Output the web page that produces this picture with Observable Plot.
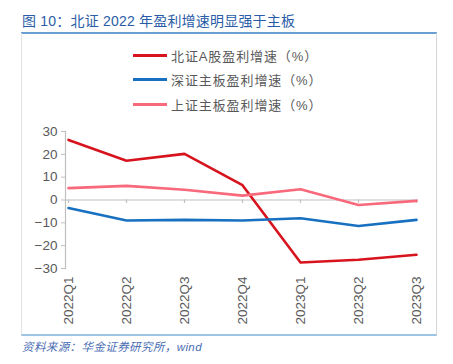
<!DOCTYPE html>
<html><head><meta charset="utf-8">
<script src="https://cdn.jsdelivr.net/npm/d3@7"></script>
<script src="https://cdn.jsdelivr.net/npm/@observablehq/plot@0.6"></script>
<style>
body{margin:0;background:#fff;}
#wrap{position:relative;width:453px;height:364px;overflow:hidden;font-family:"Liberation Sans",Arial,sans-serif;}
#title{position:absolute;left:22px;top:13px;font-family:"Liberation Sans","Noto Sans CJK SC",sans-serif;font-size:14px;line-height:17px;color:#2a5ca8;white-space:nowrap;letter-spacing:0.2px;}
#rule{position:absolute;left:21px;top:32px;width:416px;height:1.5px;background:#6a9fd4;}
#frame{position:absolute;left:21px;top:33px;width:414px;height:301px;border-left:1px solid #e2e2e2;border-right:1px solid #d6d6d6;border-bottom:2px solid #9cc5e6;}
.leg{position:absolute;left:133px;height:20px;display:flex;align-items:center;white-space:nowrap;}
.leg .sw{width:34px;height:3px;margin-right:4px;}
.leg span{font-family:"Liberation Sans","Noto Sans CJK SC",sans-serif;font-size:13px;color:#595959;letter-spacing:0.9px;}
#caption{position:absolute;left:22px;top:338px;font-family:"Liberation Sans","Noto Sans CJK SC",sans-serif;font-size:11.5px;font-style:italic;color:#4a6db4;white-space:nowrap;letter-spacing:0.4px;}
#chart{position:absolute;left:0;top:110px;}
</style></head>
<body><div id="wrap">
<div id="title"></div><div id="rule"></div><div id="frame"></div>
<div id="legend"></div>
<div id="chart"></div>
<div id="caption"></div>
</div>
<script>
const titleText = "图 10：北证 2022 年盈利增速明显强于主板";
const captionText = "资料来源：华金证券研究所，wind";
const quarters = ["2022Q1","2022Q2","2022Q3","2022Q4","2023Q1","2023Q2","2023Q3"];
const seriesNames = ["北证A股盈利增速（%）","深证主板盈利增速（%）","上证主板盈利增速（%）"];
const seriesColors = ["#d7141e","#1870c0","#f7697b"];
const bzValues = [26.3, 17.2, 20.2, 6.5, -27.4, -26.2, -24.0];
const szValues = [-3.5, -9.0, -8.7, -9.0, -8.0, -11.4, -8.7];
const shValues = [5.2, 6.2, 4.5, 1.9, 4.7, -2.2, -0.4];
const yTicks = [-30, -20, -10, 0, 10, 20, 30];

document.getElementById("title").textContent = titleText;
document.getElementById("caption").textContent = captionText;
const legTops = [45, 69, 94];
const legend = document.getElementById("legend");
seriesNames.forEach((n, i) => {
  const d = document.createElement("div");
  d.className = "leg"; d.style.top = legTops[i] + "px";
  d.innerHTML = `<div class="sw" style="background:${seriesColors[i]}"></div><span></span>`;
  d.querySelector("span").textContent = n;
  legend.appendChild(d);
});

const allSeries = [bzValues, szValues, shValues];
const rows = [];
allSeries.forEach((vals, s) => vals.forEach((v, i) => rows.push({series: seriesNames[s], q: quarters[i], v})));

const chart = Plot.plot({
  width: 453, height: 225,
  marginTop: 21, marginBottom: 67, marginLeft: 65, marginRight: 35,
  style: {fontFamily: "'Liberation Sans', Arial, sans-serif", color: "#595959", background: "transparent"},
  x: {type: "point", domain: quarters, padding: 0},
  y: {domain: [-30, 30]},
  color: {domain: seriesNames, range: seriesColors},
  marks: [
    Plot.ruleY([0], {stroke: "#bfbfbf", strokeWidth: 1.2}),
    Plot.ruleX(quarters, {x: d => d, y1: 0, y2: -1.5, stroke: "#bfbfbf", strokeWidth: 1.2}),
    Plot.frame({anchor: "left", stroke: "#bfbfbf", strokeWidth: 1.2}),
    Plot.axisY({ticks: yTicks, tickSize: 4, tickPadding: 4, fontSize: 13.5, stroke: "#bfbfbf", fill: "#595959", label: null}),
    Plot.axisX({tickRotate: -90, tickSize: 0, tickPadding: 8, fontSize: 13.5, fill: "#595959", label: null}),
    Plot.line(rows, {x: "q", y: "v", z: "series", stroke: "series", strokeWidth: 2.6, curve: "linear"})
  ]
});
document.getElementById("chart").appendChild(chart);
</script>
</body></html>
